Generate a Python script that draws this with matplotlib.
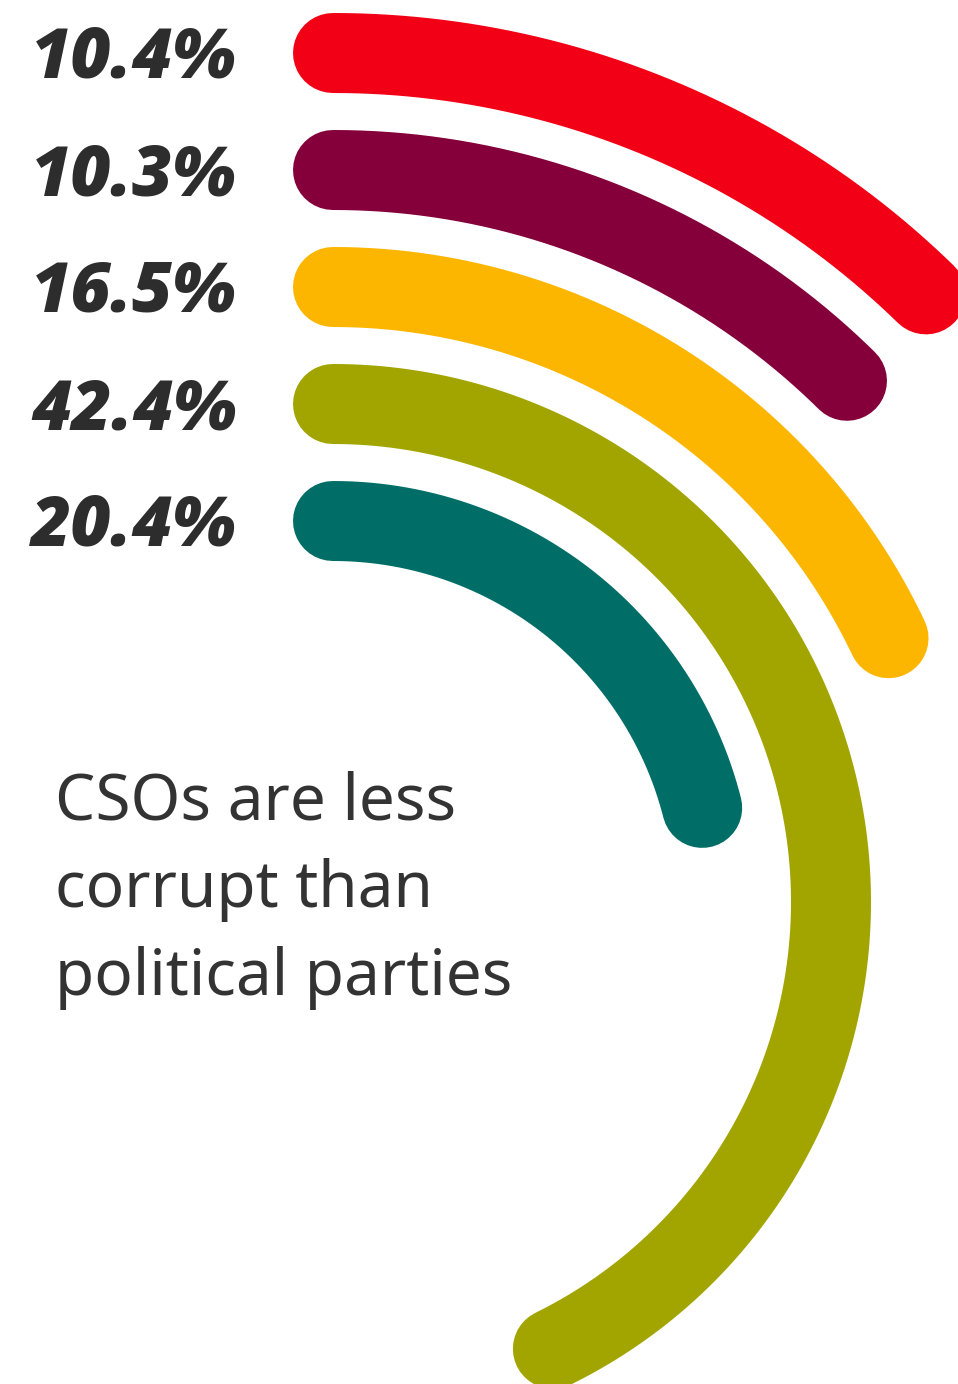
import numpy as np
import matplotlib.pyplot as plt

shares = [10.4, 10.3, 16.5, 42.4, 20.4]
# sweep of each arc in degrees, clockwise from 12 o'clock, as drawn
sweep_deg = [44.3, 44.6, 64.6, 153.8, 75.7]
colors = ['#F20016', '#85003A', '#FDB600', '#A2A500', '#006E67']
note_lines = ['CSOs are less', 'corrupt than', 'political parties']

W, H = 958, 1384
cx, cy = 333, 902          # centre of the rings, pixels from top-left
r_out, step = 849, 117     # outer ring radius and ring spacing (px)
R = 900

fig = plt.figure(figsize=(W / 100, H / 100), dpi=100)
ax = fig.add_axes([(cx - R) / W, (H - cy - R) / H, 2 * R / W, 2 * R / H],
                  projection='polar')
ax.set_theta_zero_location('N')
ax.set_theta_direction(-1)
ax.set_ylim(0, R)
ax.set_axis_off()

for i, (val, sw, col) in enumerate(zip(shares, sweep_deg, colors)):
    r = r_out - i * step
    theta = np.linspace(0, np.deg2rad(sw), 300)
    ax.plot(theta, np.full_like(theta, r), color=col, lw=80 * 0.72,
            solid_capstyle='round', clip_on=False)
    ax.annotate(f'{val}%', xy=(0, r), xytext=(-96, -25),
                textcoords='offset pixels', ha='right', va='baseline',
                fontsize=50, family='Open Sans', weight='heavy', style='italic',
                color='#2d2d2d')

for k, line in enumerate(note_lines):
    fig.text(55 / W, 1 - (820 + 87.5 * k) / H, line, ha='left', va='baseline',
             fontsize=46, family='Noto Sans', weight='normal', color='#333333')

fig.savefig('out.png', dpi=100)
